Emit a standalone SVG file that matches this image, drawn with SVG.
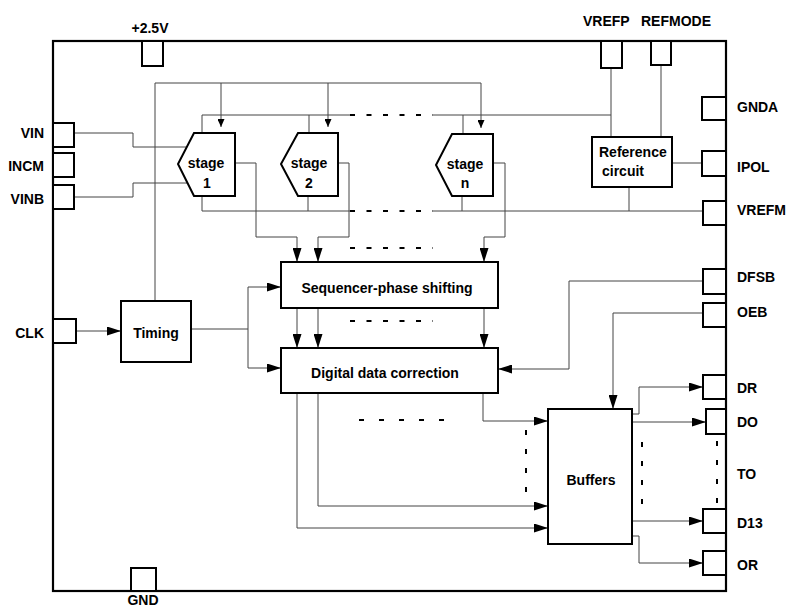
<svg xmlns="http://www.w3.org/2000/svg" width="789" height="608" viewBox="0 0 789 608">
<style>
text{font-family:"Liberation Sans",Arial,sans-serif;font-weight:bold;font-size:14px;fill:#000}
.box{fill:#fff;stroke:#000;stroke-width:2}
.pin{fill:#fff;stroke:#000;stroke-width:2}
.ln{fill:none;stroke:#444;stroke-width:1}
.dh{fill:none;stroke:#000;stroke-width:2;stroke-dasharray:5 11.5}
.dv{fill:none;stroke:#000;stroke-width:2;stroke-dasharray:5 14}
.c{text-anchor:middle}
.e{text-anchor:end}
</style>
<defs>
<marker id="a" markerUnits="userSpaceOnUse" markerWidth="14" markerHeight="9" refX="14" refY="4.5" orient="auto"><path d="M0,0 L14,4.5 L0,9 z" fill="#000"/></marker>
<marker id="s" markerUnits="userSpaceOnUse" markerWidth="8" markerHeight="7" refX="8" refY="3.5" orient="auto"><path d="M0,0 L8,3.5 L0,7 z" fill="#000"/></marker>
</defs>
<rect id="chip" x="53" y="41" width="673" height="550" fill="none" stroke="#000" stroke-width="2.2"/>
<g id="connectors">
<path class="ln" d="M155,300 V83 H481"/>
<path class="ln" d="M221,83 V127" marker-end="url(#s)"/>
<path class="ln" d="M328,83 V127" marker-end="url(#s)"/>
<path class="ln" d="M481,83 V128" marker-end="url(#s)"/>
<path class="ln" d="M202,133 V115 H350"/>
<path class="dh" d="M350,115 H433"/>
<path class="ln" d="M433,115 H611"/>
<path class="ln" d="M309,115 V133"/>
<path class="ln" d="M463,115 V134"/>
<path class="ln" d="M611,68 V137"/>
<path class="ln" d="M661,65 V137"/>
<path class="ln" d="M202,196 V211 H350"/>
<path class="dh" d="M350,211 H433"/>
<path class="ln" d="M433,211 H703"/>
<path class="ln" d="M308,196 V211"/>
<path class="ln" d="M462,196 V211"/>
<path class="ln" d="M629,187 V211"/>
<path class="ln" d="M74,133 H133 V147 H186"/>
<path class="ln" d="M74,197 H133 V183 H188"/>
<path class="ln" d="M672,163 H702"/>
<path class="ln" d="M235,163 H256 V237 H297 V262" marker-end="url(#a)"/>
<path class="ln" d="M338,163 H349 V237 H318 V262" marker-end="url(#a)"/>
<path class="ln" d="M493,163 H505 V237 H484 V262" marker-end="url(#a)"/>
<path class="dh" d="M350,248 H433"/>
<path class="ln" d="M297,308 V348" marker-end="url(#a)"/>
<path class="ln" d="M318,308 V348" marker-end="url(#a)"/>
<path class="ln" d="M484,308 V348" marker-end="url(#a)"/>
<path class="dh" d="M350,321 H433"/>
<path class="ln" d="M76,331 H121" marker-end="url(#a)"/>
<path class="ln" d="M191,329 H248"/>
<path class="ln" d="M248,329 V287 H281" marker-end="url(#a)"/>
<path class="ln" d="M248,329 V368 H281" marker-end="url(#a)"/>
<path class="ln" d="M703,281 H569 V369 H498" marker-end="url(#a)"/>
<path class="ln" d="M703,313 H613 V409" marker-end="url(#a)"/>
<path class="ln" d="M297,393 V528 H548" marker-end="url(#a)"/>
<path class="ln" d="M318,393 V506 H548" marker-end="url(#a)"/>
<path class="ln" d="M483,393 V421 H548" marker-end="url(#a)"/>
<path class="dh" d="M359,420 H444" style="stroke-dasharray:5 15"/>
<path class="dv" d="M526,430 V494"/>
<path class="ln" d="M632,414 H639 V387 H703" marker-end="url(#a)"/>
<path class="ln" d="M632,422 H706" marker-end="url(#a)"/>
<path class="ln" d="M632,521 H703" marker-end="url(#a)"/>
<path class="ln" d="M632,536 H639 V563 H703" marker-end="url(#a)"/>
<path class="dv" d="M642,442 V504"/>
<path class="dv" d="M717,441 V504"/>
</g>
<g id="pin-25V"><rect class="pin" x="142" y="41" width="21" height="25"/><text class="c" x="150" y="33">+2.5V</text></g>
<g id="pin-VREFP"><rect class="pin" x="601" y="41" width="21" height="27"/><text x="583" y="26">VREFP</text></g>
<g id="pin-REFMODE"><rect class="pin" x="651" y="41" width="20" height="24"/><text x="641" y="26">REFMODE</text></g>
<g id="pin-GNDA"><rect class="pin" x="702" y="97" width="24" height="23"/><text x="737" y="112">GNDA</text></g>
<g id="pin-IPOL"><rect class="pin" x="702" y="151" width="24" height="25"/><text x="737" y="172">IPOL</text></g>
<g id="pin-VREFM"><rect class="pin" x="703" y="201" width="23" height="24"/><text x="737" y="215">VREFM</text></g>
<g id="pin-DFSB"><rect class="pin" x="703" y="269" width="23" height="25"/><text x="737" y="282">DFSB</text></g>
<g id="pin-OEB"><rect class="pin" x="703" y="303" width="23" height="24"/><text x="737" y="317">OEB</text></g>
<g id="pin-DR"><rect class="pin" x="703" y="375" width="23" height="24"/><text x="737" y="393">DR</text></g>
<g id="pin-DO"><rect class="pin" x="706" y="409" width="20" height="25"/><text x="737" y="427">DO</text></g>
<g id="label-TO"><text x="737" y="479">TO</text></g>
<g id="pin-D13"><rect class="pin" x="703" y="509" width="23" height="24"/><text x="737" y="528">D13</text></g>
<g id="pin-OR"><rect class="pin" x="703" y="551" width="23" height="24"/><text x="737" y="570">OR</text></g>
<g id="pin-VIN"><rect class="pin" x="53" y="123" width="21" height="24"/><text class="e" x="44" y="138">VIN</text></g>
<g id="pin-INCM"><rect class="pin" x="53" y="153" width="21" height="24"/><text class="e" x="44" y="171">INCM</text></g>
<g id="pin-VINB"><rect class="pin" x="53" y="185" width="21" height="24"/><text class="e" x="44" y="204">VINB</text></g>
<g id="pin-CLK"><rect class="pin" x="53" y="319" width="23" height="24"/><text class="e" x="44" y="338">CLK</text></g>
<g id="pin-GND"><rect class="pin" x="131" y="568" width="25" height="23"/><text class="c" x="143" y="605">GND</text></g>
<g id="stage1"><polygon class="box" points="194,133 235,133 235,196 194,196 178,164"/><text class="c" x="206" y="168">stage</text><text class="c" x="207" y="188">1</text></g>
<g id="stage2"><polygon class="box" points="298,133 338,133 338,196 298,196 281,164"/><text class="c" x="309" y="168">stage</text><text class="c" x="309" y="188">2</text></g>
<g id="stagen"><polygon class="box" points="452,134 493,134 493,196 452,196 436,165"/><text class="c" x="465" y="169">stage</text><text class="c" x="465" y="188">n</text></g>
<g id="reference"><rect class="box" x="592" y="137" width="80" height="50"/><text x="599" y="157">Reference</text><text x="602" y="176">circuit</text></g>
<g id="timing"><rect class="box" x="121" y="301" width="70" height="61"/><text class="c" x="156" y="338">Timing</text></g>
<g id="sequencer"><rect class="box" x="281" y="262" width="217" height="46"/><text class="c" x="387" y="293">Sequencer-phase shifting</text></g>
<g id="ddc"><rect class="box" x="281" y="348" width="217" height="45"/><text class="c" x="385" y="378">Digital data correction</text></g>
<g id="buffers"><rect class="box" x="548" y="409" width="84" height="135"/><text class="c" x="591" y="485">Buffers</text></g>
</svg>
